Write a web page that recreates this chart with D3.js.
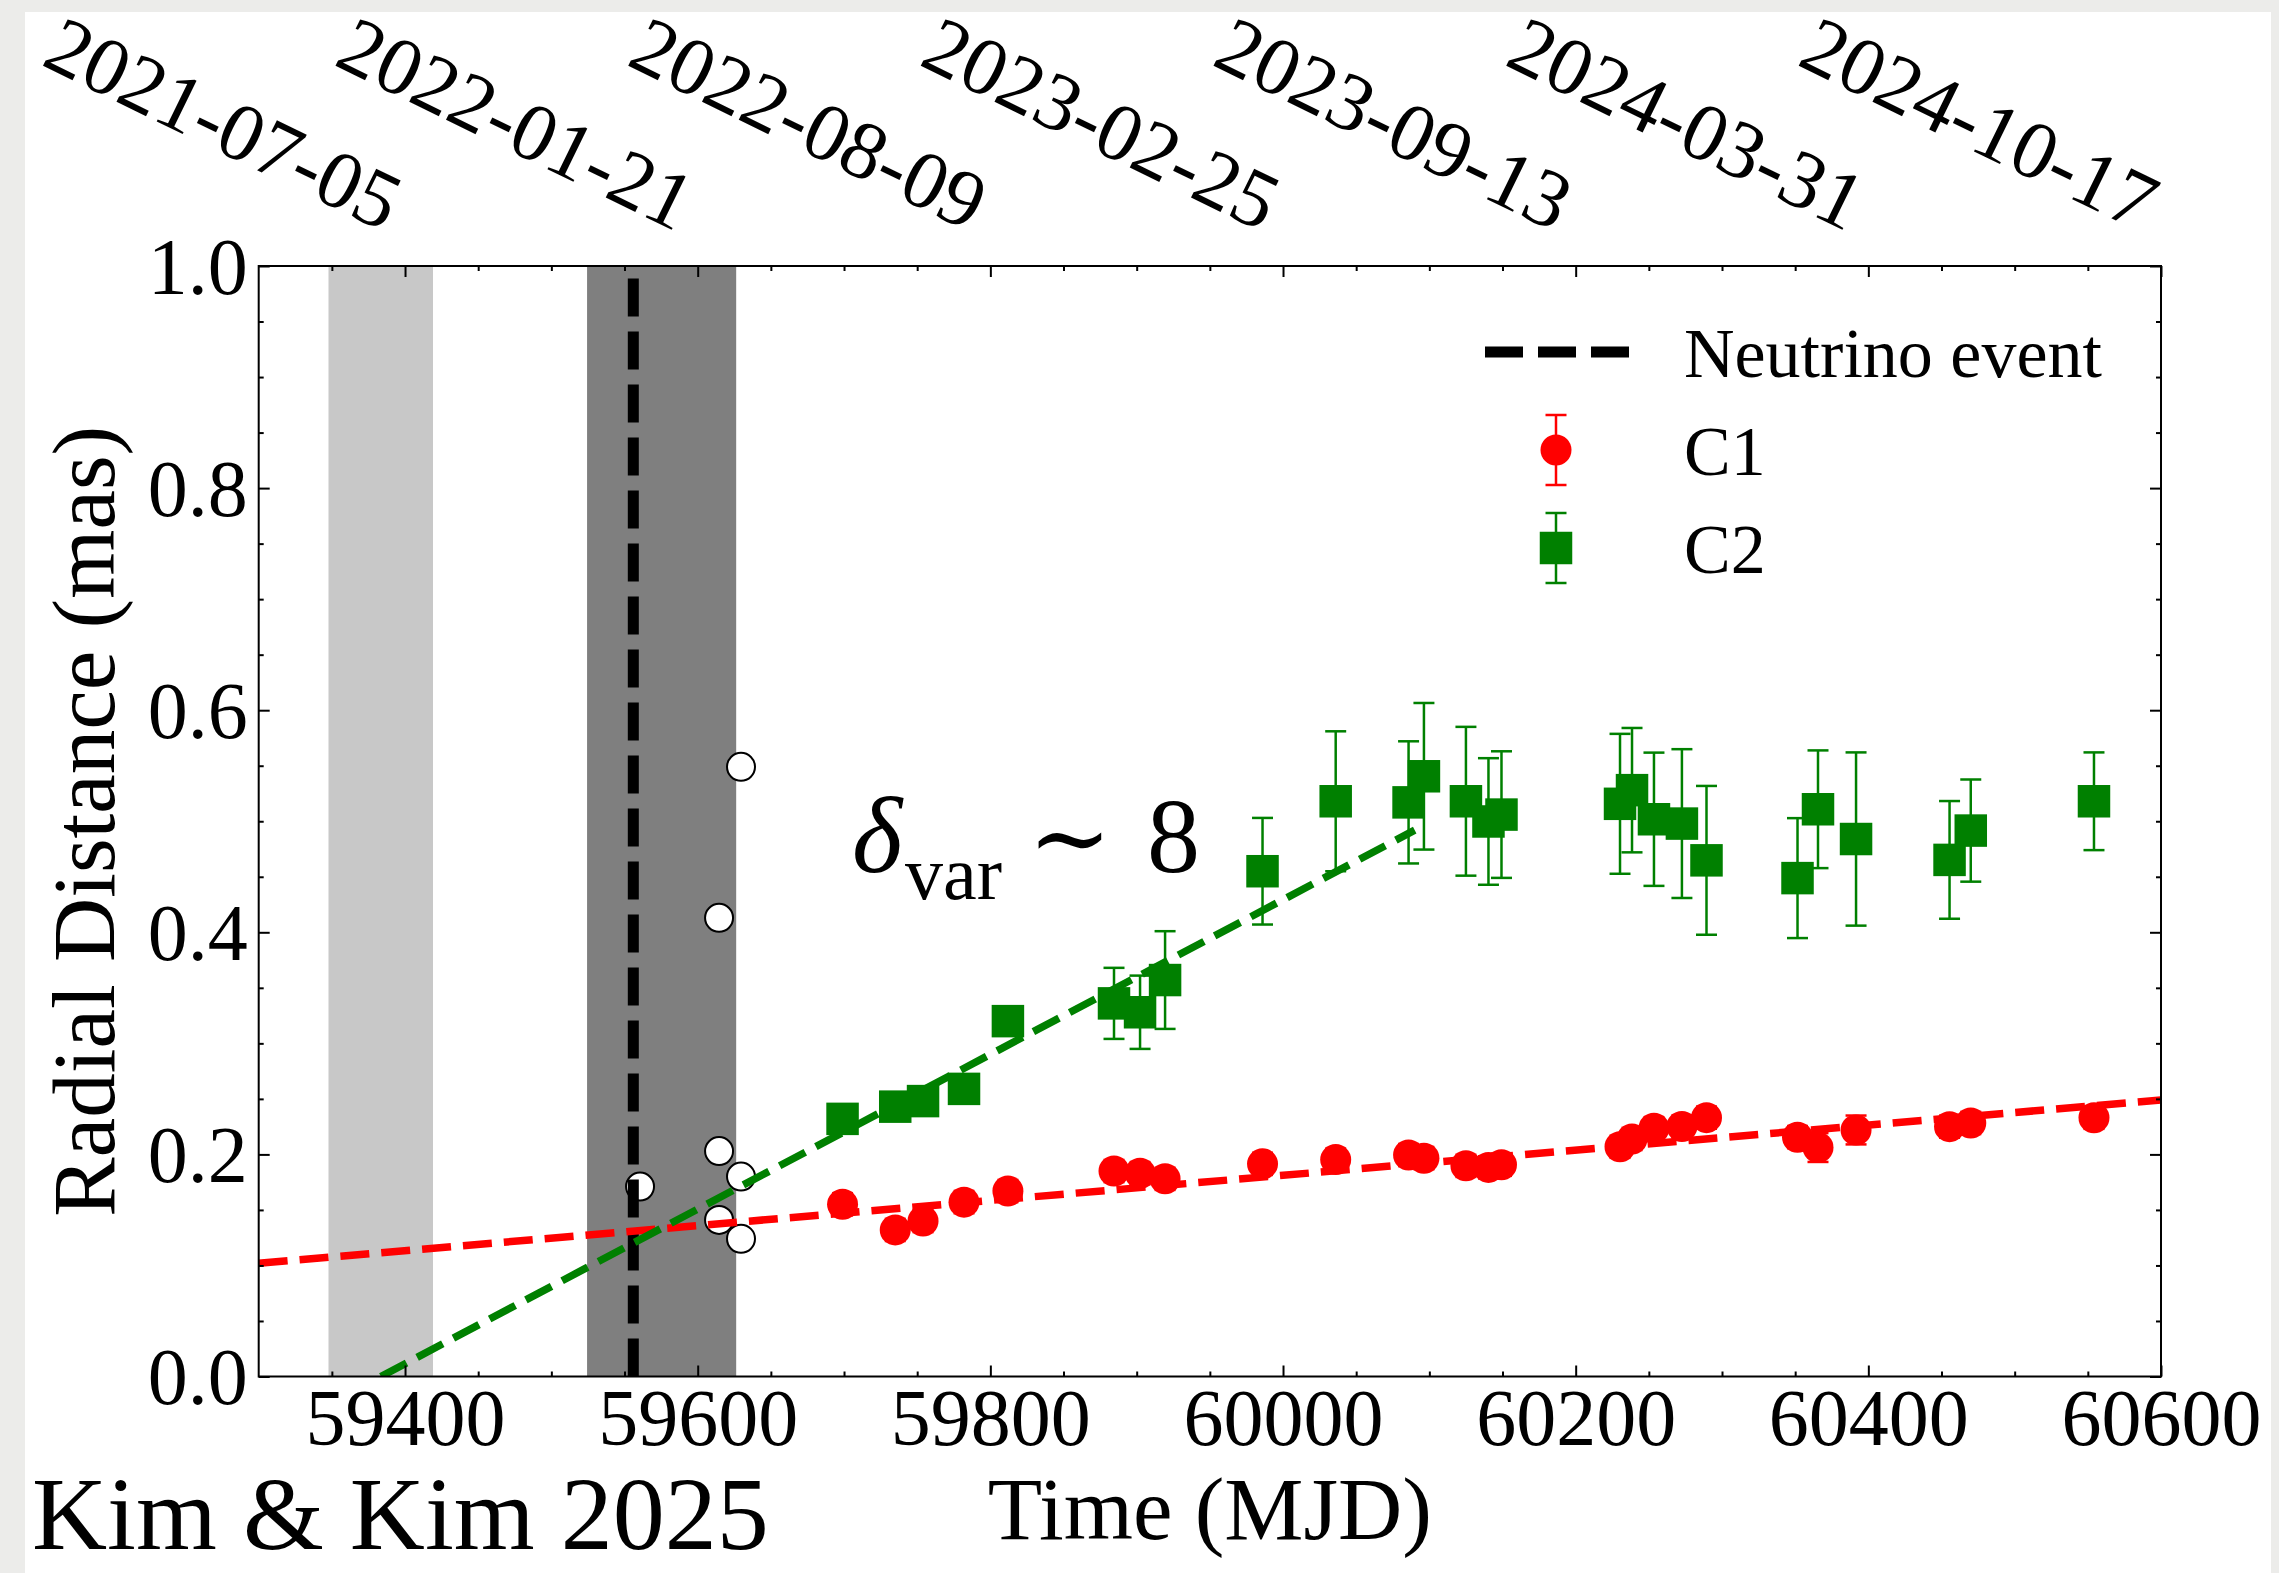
<!DOCTYPE html>
<html>
<head>
<meta charset="utf-8">
<script src="https://cdn.jsdelivr.net/npm/d3@7"></script>
<style>
  html, body { margin: 0; padding: 0; background: #ececea; }
  svg { display: block; }
</style>
</head>
<body>
<svg id="chart" width="2279" height="1573"></svg>
<script>
// ---- observation epochs (MJD) shared by both jet components ----
const epochs = [59699, 59735, 59754, 59782, 59812, 59884.5, 59902.3, 59919.4, 59986, 60036,
                60085.8, 60096.3, 60125, 60140.4, 60149.3, 60230.3, 60238.5, 60253.5, 60272.6,
                60289.4, 60351.6, 60365.6, 60391.6, 60455.5, 60470, 60554.2];

// ---- C1 radial distance (mas) and uncertainty ----
const c1Dist = [0.155, 0.132, 0.140, 0.157, 0.167, 0.185, 0.183, 0.178, 0.1915, 0.1953,
                0.1994, 0.1966, 0.1897, 0.1883, 0.1907, 0.2069, 0.2139, 0.2235, 0.2252,
                0.2331, 0.2155, 0.2062, 0.2220, 0.2250, 0.2283, 0.2330];
const c1Err  = [0.010, 0.010, 0.010, 0.010, 0.010, 0.010, 0.010, 0.010, 0.010, 0.010,
                0.010, 0.010, 0.010, 0.010, 0.010, 0.010, 0.010, 0.010, 0.010,
                0.010, 0.010, 0.013, 0.013, 0.010, 0.010, 0.010];

// ---- C2 radial distance (mas) and uncertainty ----
const c2Dist = [0.232, 0.243, 0.248, 0.259, 0.320, 0.336, 0.328, 0.357, 0.455, 0.518,
                0.517, 0.5405, 0.518, 0.4998, 0.506, 0.5157, 0.528, 0.5018, 0.4979,
                0.4648, 0.4488, 0.5108, 0.484, 0.4652, 0.4916, 0.518];
const c2Err  = [0.012, 0.012, 0.012, 0.012, 0.012, 0.032, 0.033, 0.044, 0.048, 0.063,
                0.055, 0.066, 0.067, 0.057, 0.057, 0.063, 0.056, 0.060, 0.067,
                0.067, 0.054, 0.053, 0.078, 0.053, 0.046, 0.044];

// ---- earlier-epoch positions (open circles) ----
const earlyMJD  = [59629.6, 59614.6, 59614.6, 59629.6, 59560.6, 59614.6, 59629.6];
const earlyDist = [0.549, 0.413, 0.203, 0.180, 0.171, 0.141, 0.124];

// ---- event time, shaded windows and linear fits ----
const neutrinoMJD = 59556;
const bandLight = [59347.7, 59419.1];
const bandDark  = [59524.4, 59626.3];
const fitC1 = [[59300, 0.102], [60600, 0.249]];
const fitC2 = [[59383.5, 0.0], [60090, 0.492]];

// ---- axes ----
const xDomain = [59300, 60600];
const yDomain = [0, 1];
const xTicks = [59400, 59600, 59800, 60000, 60200, 60400, 60600];
const dateLabels = ["2021-07-05", "2022-01-21", "2022-08-09", "2023-02-25",
                    "2023-09-13", "2024-03-31", "2024-10-17"];
const yTicks = [0, 0.2, 0.4, 0.6, 0.8, 1.0];
const xMinor = [59350, 59450, 59500, 59550, 59650, 59700, 59750, 59850, 59900, 59950,
                60050, 60100, 60150, 60250, 60300, 60350, 60450, 60500, 60550];
const yMinor = [0.05, 0.1, 0.15, 0.25, 0.3, 0.35, 0.45, 0.5, 0.55, 0.65, 0.7, 0.75, 0.85, 0.9, 0.95];

const FONT = "'Liberation Serif', 'Times New Roman', 'DejaVu Serif', serif";
const W = 2279, H = 1573;
const L = 258.7, R = 2161, T = 266, B = 1376.5;

const svg = d3.select("#chart");
svg.append("rect").attr("x", 25).attr("y", 12).attr("width", 2246).attr("height", H - 12).attr("fill", "#ffffff");

const x = d3.scaleLinear().domain(xDomain).range([L, R]);
const y = d3.scaleLinear().domain(yDomain).range([B, T]);

svg.append("defs").append("clipPath").attr("id", "plotClip")
  .append("rect").attr("x", L).attr("y", T).attr("width", R - L).attr("height", B - T);

const plot = svg.append("g").attr("clip-path", "url(#plotClip)");

// shaded windows
plot.append("rect").attr("x", x(bandLight[0])).attr("y", T)
  .attr("width", x(bandLight[1]) - x(bandLight[0])).attr("height", B - T).attr("fill", "#c8c8c8");
plot.append("rect").attr("x", x(bandDark[0])).attr("y", T)
  .attr("width", x(bandDark[1]) - x(bandDark[0])).attr("height", B - T).attr("fill", "#7f7f7f");

// open circles
plot.selectAll("circle.early").data(earlyMJD.map((t, i) => [t, earlyDist[i]])).join("circle")
  .attr("class", "early").attr("cx", d => x(d[0])).attr("cy", d => y(d[1])).attr("r", 14)
  .attr("fill", "#ffffff").attr("stroke", "#000").attr("stroke-width", 2);

// neutrino event line (drawn bottom to top)
plot.append("line").attr("x1", x(neutrinoMJD)).attr("x2", x(neutrinoMJD))
  .attr("y1", y(0)).attr("y2", y(1)).attr("stroke", "#000").attr("stroke-width", 11)
  .attr("stroke-dasharray", "38 15");

// linear fits
const lineGen = d3.line().x(d => x(d[0])).y(d => y(d[1]));
plot.append("path").attr("d", lineGen(fitC1)).attr("fill", "none").attr("stroke", "#ff0000")
  .attr("stroke-width", 7.5).attr("stroke-dasharray", "29 12");
plot.append("path").attr("d", lineGen(fitC2)).attr("fill", "none").attr("stroke", "#008000")
  .attr("stroke-width", 7.5).attr("stroke-dasharray", "29 12");

// error bars helper
function errorBars(g, vals, errs, color) {
  const rows = epochs.map((t, i) => ({ t, v: vals[i], e: errs[i] }));
  const eb = g.append("g").attr("stroke", color).attr("stroke-width", 2.5);
  eb.selectAll("line.v").data(rows).join("line").attr("class", "v")
    .attr("x1", d => x(d.t)).attr("x2", d => x(d.t))
    .attr("y1", d => y(d.v - d.e)).attr("y2", d => y(d.v + d.e));
  eb.selectAll("line.top").data(rows).join("line").attr("class", "top")
    .attr("x1", d => x(d.t) - 10.5).attr("x2", d => x(d.t) + 10.5)
    .attr("y1", d => y(d.v + d.e)).attr("y2", d => y(d.v + d.e));
  eb.selectAll("line.bot").data(rows).join("line").attr("class", "bot")
    .attr("x1", d => x(d.t) - 10.5).attr("x2", d => x(d.t) + 10.5)
    .attr("y1", d => y(d.v - d.e)).attr("y2", d => y(d.v - d.e));
  return rows;
}

// C1
const c1Rows = errorBars(plot, c1Dist, c1Err, "#ff0000");
plot.selectAll("circle.c1").data(c1Rows).join("circle").attr("class", "c1")
  .attr("cx", d => x(d.t)).attr("cy", d => y(d.v)).attr("r", 15.5).attr("fill", "#ff0000");

// C2
const c2Rows = errorBars(plot, c2Dist, c2Err, "#008000");
const sq = 32.5;
plot.selectAll("rect.c2").data(c2Rows).join("rect").attr("class", "c2")
  .attr("x", d => x(d.t) - sq / 2).attr("y", d => y(d.v) - sq / 2)
  .attr("width", sq).attr("height", sq).attr("fill", "#008000");

// ---- axes ----
function styleAxis(sel) {
  sel.attr("font-family", FONT).attr("font-size", null);
  sel.select(".domain").remove();
  sel.selectAll(".tick line").attr("stroke", "#000").attr("stroke-width", 2);
  sel.selectAll("text").attr("fill", "#000");
}

const axB = svg.append("g").attr("transform", `translate(0,${B})`)
  .call(d3.axisBottom(x).tickValues(xTicks).tickSizeInner(-11).tickSizeOuter(0)
    .tickPadding(12).tickFormat(d3.format("d")));
styleAxis(axB);
axB.selectAll("text").attr("font-size", 80);

svg.append("g").attr("transform", `translate(0,${B})`)
  .call(d3.axisBottom(x).tickValues(xMinor).tickSizeInner(-5).tickSizeOuter(0).tickFormat(""))
  .call(styleAxis);

const axT = svg.append("g").attr("transform", `translate(0,${T})`)
  .call(d3.axisTop(x).tickValues(xTicks).tickSizeInner(-11).tickSizeOuter(0)
    .tickFormat((d, i) => dateLabels[i]));
styleAxis(axT);
axT.selectAll("text").attr("font-size", 82).attr("text-anchor", "end")
  .attr("x", -22).attr("y", -34).attr("dy", 0)
  .attr("transform", "rotate(26,-22,-34)");

svg.append("g").attr("transform", `translate(0,${T})`)
  .call(d3.axisTop(x).tickValues(xMinor).tickSizeInner(-5).tickSizeOuter(0).tickFormat(""))
  .call(styleAxis);

const axL = svg.append("g").attr("transform", `translate(${L},0)`)
  .call(d3.axisLeft(y).tickValues(yTicks).tickSizeInner(-11).tickSizeOuter(0)
    .tickPadding(11).tickFormat(d3.format(".1f")));
styleAxis(axL);
axL.selectAll("text").attr("font-size", 80).attr("dy", "0.34em");

svg.append("g").attr("transform", `translate(${L},0)`)
  .call(d3.axisLeft(y).tickValues(yMinor).tickSizeInner(-5).tickSizeOuter(0).tickFormat(""))
  .call(styleAxis);

svg.append("g").attr("transform", `translate(${R},0)`)
  .call(d3.axisRight(y).tickValues(yTicks).tickSizeInner(-11).tickSizeOuter(0).tickFormat(""))
  .call(styleAxis);
svg.append("g").attr("transform", `translate(${R},0)`)
  .call(d3.axisRight(y).tickValues(yMinor).tickSizeInner(-5).tickSizeOuter(0).tickFormat(""))
  .call(styleAxis);

// frame
svg.append("rect").attr("x", L).attr("y", T).attr("width", R - L).attr("height", B - T)
  .attr("fill", "none").attr("stroke", "#000").attr("stroke-width", 2);

// axis titles
svg.append("text").attr("x", (L + R) / 2).attr("y", 1539).attr("text-anchor", "middle")
  .attr("font-family", FONT).attr("font-size", 89).text("Time (MJD)");
svg.append("text").attr("transform", `translate(114,${(T + B) / 2}) rotate(-90)`)
  .attr("text-anchor", "middle").attr("font-family", FONT).attr("font-size", 89)
  .text("Radial Distance (mas)");

// annotation
const ann = svg.append("g").attr("font-family", FONT).attr("fill", "#000");
ann.append("text").attr("x", 852).attr("y", 872).attr("font-size", 108)
  .attr("font-style", "italic").text("δ");
ann.append("text").attr("x", 905).attr("y", 899).attr("font-size", 76).text("var");
ann.append("text").attr("x", 1070).attr("y", 872).attr("font-size", 100)
  .attr("text-anchor", "middle").text("∼");
ann.append("text").attr("x", 1147).attr("y", 872).attr("font-size", 106).text("8");

// legend
const lg = svg.append("g").attr("font-family", FONT).attr("font-size", 70);
lg.append("line").attr("x1", 1485).attr("x2", 1629).attr("y1", 352).attr("y2", 352)
  .attr("stroke", "#000").attr("stroke-width", 11).attr("stroke-dasharray", "38 15");
lg.append("text").attr("x", 1684).attr("y", 377).text("Neutrino event");

function legendErr(cx, cy, color) {
  lg.append("line").attr("x1", cx).attr("x2", cx).attr("y1", cy - 35).attr("y2", cy + 35)
    .attr("stroke", color).attr("stroke-width", 2.5);
  [cy - 35, cy + 35].forEach(yy => lg.append("line").attr("x1", cx - 10.5).attr("x2", cx + 10.5)
    .attr("y1", yy).attr("y2", yy).attr("stroke", color).attr("stroke-width", 2.5));
}
legendErr(1556, 450, "#ff0000");
lg.append("circle").attr("cx", 1556).attr("cy", 450).attr("r", 15.5).attr("fill", "#ff0000");
lg.append("text").attr("x", 1684).attr("y", 475).text("C1");
legendErr(1556, 548, "#008000");
lg.append("rect").attr("x", 1556 - sq / 2).attr("y", 548 - sq / 2).attr("width", sq).attr("height", sq)
  .attr("fill", "#008000");
lg.append("text").attr("x", 1684).attr("y", 573).text("C2");

// credit line
svg.append("text").attr("x", 32).attr("y", 1549).attr("font-family", FONT).attr("font-size", 104)
  .text("Kim & Kim 2025");
</script>
</body>
</html>
